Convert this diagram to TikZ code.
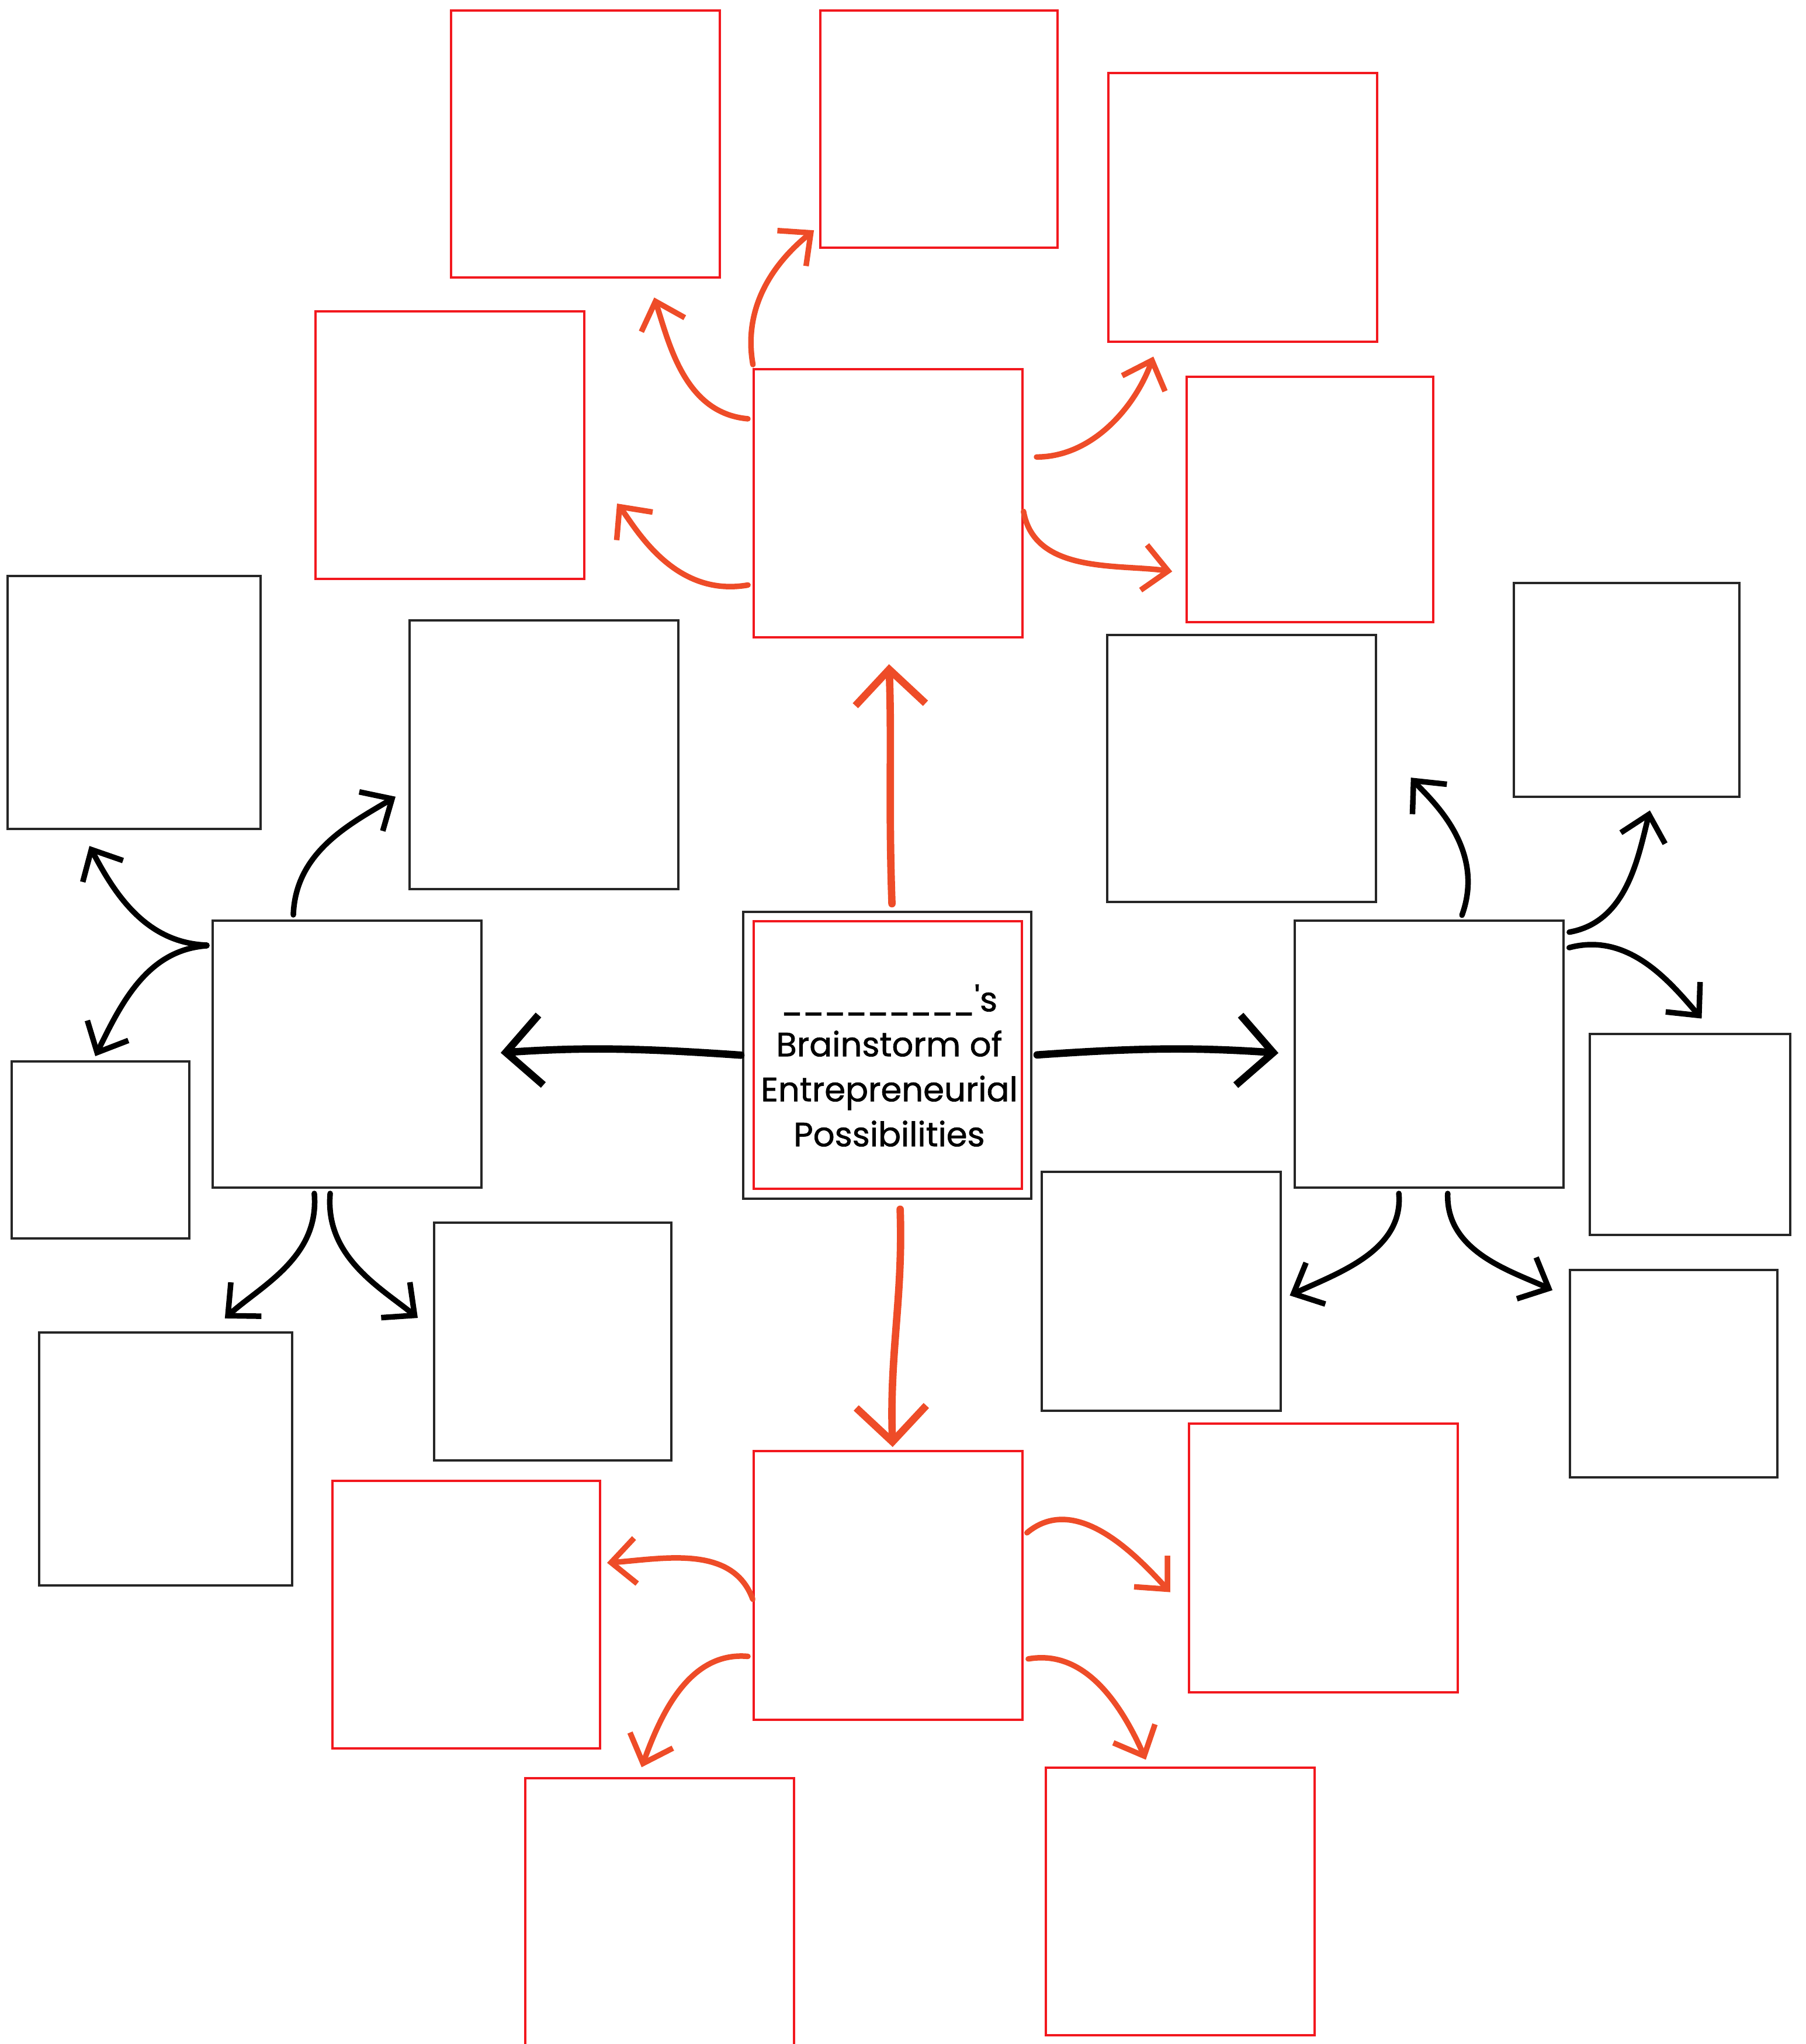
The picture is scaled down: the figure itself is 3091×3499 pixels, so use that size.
\documentclass[tikz,border=0pt]{standalone}
\usepackage{fontspec}
\setmainfont{Poppins}
\newfontfamily\titlefont{Poppins}[FakeBold=1.2]
\usetikzlibrary{arrows.meta,fit}
\definecolor{boxred}{RGB}{242,24,30}
\definecolor{arrowred}{RGB}{238,76,40}
\newcommand{\blanks}{\scalebox{0.87}[1]{\_\_\_\_\_\_\_\_\_}}
\tikzset{
    rbox/.style =   {rectangle,
                    draw=boxred,
                    line width=0.9pt,
                    inner sep=0pt,
                    outer sep=0pt},
    kbox/.style =   {rectangle,
                    draw=black!85,
                    line width=0.9pt,
                    inner sep=0pt,
                    outer sep=0pt},
    spoke/.style =  {line width=3.6pt,
                    line cap=round,
                    shorten <=0.1cm,
                    -{Straight Barb[length=0.6cm,width=1.2cm]}},
    branch/.style = {line width=2.7pt,
                    line cap=round,
                    shorten <=0.1cm,
                    -{Straight Barb[length=0.42cm,width=0.78cm]}},
    title/.style =  {align=center,
                    inner sep=0pt,
                    font=\titlefont\fontsize{16.4}{21.9}\selectfont}
}
\begin{document}
\begin{tikzpicture}[x=0.01cm,y=-0.01cm]
    \useasboundingbox (0,0) rectangle (3091,3499);

    % centre
    \node[kbox, fit={(1272,1561) (1765,2052)}] (ctrout) {};
    \node[rbox, fit={(1290,1577) (1749,2035)}] (ctr) {};
    \node[title] (title) at (1522,1824) {\blanks\textquotesingle s\\Brainstorm of\\Entrepreneurial\\Possibilities};

    % red cluster, top
    \node[rbox, fit={(1290,632) (1750,1091)}]   (hubT) {};
    \node[rbox, fit={(772,18) (1232,475)}]      (rTL) {};
    \node[rbox, fit={(1404,18) (1810,424)}]     (rTM) {};
    \node[rbox, fit={(1897,125) (2357,585)}]    (rTR) {};
    \node[rbox, fit={(540,533) (1000,991)}]     (rL) {};
    \node[rbox, fit={(2031,645) (2453,1065)}]   (rR) {};

    % red cluster, bottom
    \node[rbox, fit={(1290,2484) (1750,2944)}]  (hubB) {};
    \node[rbox, fit={(569,2535) (1027,2993)}]   (rBL) {};
    \node[rbox, fit={(2035,2437) (2495,2897)}]  (rBR) {};
    \node[rbox, fit={(899,3044) (1359,3520)}]   (rBLL) {};
    \node[rbox, fit={(1790,3026) (2250,3484)}]  (rBLR) {};

    % black cluster, left
    \node[kbox, fit={(364,1576) (824,2033)}]    (hubL) {};
    \node[kbox, fit={(13,986) (446,1419)}]      (kFL) {};
    \node[kbox, fit={(701,1062) (1161,1522)}]   (kLT) {};
    \node[kbox, fit={(20,1817) (324,2120)}]     (kSL) {};
    \node[kbox, fit={(67,2281) (500,2714)}]     (kLL) {};
    \node[kbox, fit={(743,2093) (1149,2500)}]   (kLM) {};

    % black cluster, right
    \node[kbox, fit={(2216,1576) (2676,2033)}]  (hubR) {};
    \node[kbox, fit={(1895,1087) (2355,1544)}]  (kRT) {};
    \node[kbox, fit={(2591,998) (2977,1364)}]   (kFR) {};
    \node[kbox, fit={(2721,1770) (3064,2114)}]  (kFR2) {};
    \node[kbox, fit={(1783,2006) (2192,2415)}]  (kMR) {};
    \node[kbox, fit={(2687,2174) (3042,2529)}]  (kLR) {};

    % spokes from the centre
    \path[spoke, arrowred]  (ctrout.88)  edge[out=92,in=-88,shorten <=0.14cm,shorten >=0.46cm]  (hubT.south)
                            (ctrout.-85) edge[out=-88,in=92,shorten <=0.18cm,shorten >=0.07cm]  (hubB.88);
    \path[spoke, black]     (ctrout.west) edge[out=176,in=4,shorten <=0.04cm,shorten >=0.33cm]  (hubL.east)
                            (ctrout.east) edge[out=4,in=176,shorten <=0.1cm,shorten >=0.28cm]   (hubR.west);

    % branches, red
    \path[branch, arrowred] (hubT.north west) edge[out=100,in=219,shorten <=0.08cm,shorten >=0.14cm] (rTM.219)
                            (hubT.148)  edge[out=175,in=-72,shorten >=0.36cm]  (rTL.-65)
                            (hubT.211)  edge[out=190,in=-52,shorten >=0.91cm]  (rL.-7)
                            (hubT.19)   edge[out=0,in=250,shorten <=0.24cm,shorten >=0.27cm]  (rTR.-122)
                            (hubT.-1)   edge[out=-80,in=172,shorten >=0.25cm]  (rR.211)
                            (hubB.187)  edge[out=110,in=4,shorten <=0.05cm,shorten >=0.12cm] (rBL.21)
                            (hubB.208)  edge[out=175,in=70,shorten >=0.2cm]    (rBLL.99)
                            (hubB.20)   edge[out=40,in=133,shorten >=0.47cm]   (rBR.202)
                            (hubB.-29)  edge[out=10,in=114,shorten >=0.15cm]   (rBLR.103);

    % branches, black
    \path[branch, black]    (hubL.141)  edge[out=178,in=-62,shorten >=0.33cm]  (kFL.-113)
                            (hubL.141)  edge[out=184,in=64,shorten >=0.1cm]    (kSL.95)
                            (hubL.112)  edge[out=88,in=211,shorten >=0.28cm]   (kLT.194)
                            (hubL.-104) edge[out=-85,in=42,shorten >=0.36cm]   (kLL.71)
                            (hubL.-97)  edge[out=-95,in=141,shorten >=0.36cm]  (kLM.175)
                            (hubR.77)   edge[out=70,in=-49,shorten >=0.91cm]   (kRT.13)
                            (hubR.42)   edge[out=10,in=-104,shorten >=0.24cm]  (kFR.-76)
                            (hubR.38)   edge[out=15,in=131,shorten >=0.35cm]   (kFR2.76)
                            (hubR.-103) edge[out=-85,in=25,shorten >=0.17cm]   (kMR.-4)
                            (hubR.-82)  edge[out=-92,in=155,shorten >=0.33cm]  (kLR.144);
\end{tikzpicture}
\end{document}
